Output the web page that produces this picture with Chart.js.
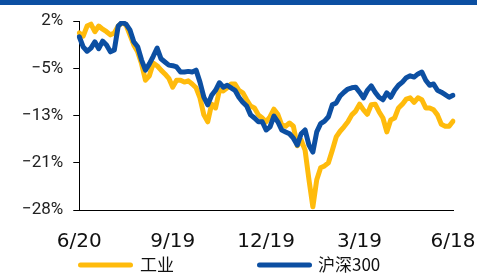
<!DOCTYPE html>
<html>
<head>
<meta charset="utf-8">
<script src="https://cdn.jsdelivr.net/npm/chart.js@4"></script>
<style>
  html, body { margin: 0; padding: 0; background: #fff; }
  #wrap { position: relative; width: 477px; height: 273px; }
</style>
</head>
<body>
<div id="wrap"><canvas id="chart"></canvas></div>
<script>
const xTickLabels = ['6/20', '9/19', '12/19', '3/19', '6/18'];
const xTickIndex = [0, 24, 48, 72, 96];
const yTickValues = [-28, -20.5, -13, -5.5, 2];
const yTickLabels = ['\u221228%', '\u221221%', '\u221213%', '\u22125%', '2%'];

const industry = [
  0.1, -0.4, 1.2, 1.5, 0.3, 1.2, 0.7, 0.3, -0.2, 0.1,
  1.2, 1.7, 1.4, -0.2, -1.8, -2.9, -4.8, -7.4, -6.7, -4.7,
  -5.1, -5.8, -6.4, -7.1, -8.5, -7.4, -7.4, -7.7, -7.5, -8.0,
  -8.6, -10.2, -12.9, -14.0, -11.2, -11.8, -9.0, -9.1, -8.6, -8.0,
  -8.0, -9.0, -9.4, -10.5, -11.5, -11.8, -12.9, -13.4, -14.0, -13.2,
  -12.0, -12.8, -14.5, -14.7, -14.2, -14.7, -17.8, -16.9, -18.5, -23.2,
  -27.5, -23.2, -21.3, -21.0, -20.5, -18.5, -16.4, -15.5, -14.8, -14.0,
  -12.9, -12.3, -11.2, -12.1, -12.8, -11.3, -11.2, -12.4, -13.4, -15.6,
  -13.7, -13.4, -11.8, -11.2, -10.4, -10.2, -10.9, -10.2, -10.5, -11.8,
  -11.8, -12.1, -12.9, -14.4, -14.7, -14.7, -13.9
];

const hs300 = [
  -0.5, -2.1, -2.8, -2.3, -1.3, -2.4, -1.2, -1.8, -2.9, -2.6,
  1.2, 1.8, 1.5, 0.6, -1.3, -2.1, -4.2, -5.8, -4.8, -3.6,
  -2.3, -4.0, -4.5, -5.0, -5.1, -5.3, -6.1, -6.1, -6.0, -6.1,
  -5.8, -7.7, -10.1, -11.3, -9.8, -9.0, -7.8, -8.5, -8.2, -8.6,
  -9.0, -10.1, -10.9, -11.5, -12.9, -13.4, -14.0, -14.0, -15.3, -14.8,
  -13.1, -14.0, -15.3, -15.6, -15.9, -16.6, -17.7, -15.9, -15.3, -17.7,
  -18.8, -15.6, -14.3, -13.9, -13.2, -11.3, -11.0, -9.9, -9.3, -8.8,
  -8.6, -8.5, -9.3, -10.2, -9.0, -8.3, -9.3, -10.1, -10.5, -9.4,
  -10.1, -9.0, -8.2, -7.7, -7.0, -6.7, -6.9, -6.4, -6.1, -7.4,
  -8.2, -8.0, -9.0, -9.3, -9.7, -10.1, -9.8
];

const yellow = '#FFBB0C';
const blue = '#0C4FA2';

// top band and bottom legend drawn straight on the canvas
const decor = {
  id: 'decor',
  beforeDraw(chart) {
    const ctx = chart.ctx;
    ctx.save();
    ctx.fillStyle = blue;
    ctx.fillRect(0, 0, chart.width, 5);
    ctx.restore();
  },
  afterDraw(chart) {
    const ctx = chart.ctx;
    const spots = [{ x: 78, tx: 140 }, { x: 257, tx: 318 }];
    ctx.save();
    ctx.lineCap = 'round';
    ctx.lineWidth = 5;
    ctx.font = '17px "Noto Sans CJK SC"';
    ctx.textBaseline = 'middle';
    ctx.fillStyle = '#111';
    chart.data.datasets.forEach((ds, i) => {
      const s = spots[i];
      ctx.strokeStyle = ds.borderColor;
      ctx.beginPath();
      ctx.moveTo(s.x + 2.5, 265);
      ctx.lineTo(s.x + 52.5, 265);
      ctx.stroke();
      ctx.fillText(ds.label, s.tx, 265);
    });
    ctx.restore();
  }
};

new Chart(document.getElementById('chart'), {
  type: 'line',
  data: {
    labels: industry.map((_, i) => i),
    datasets: [
      { label: '工业', data: industry, borderColor: yellow, backgroundColor: yellow, order: 1 },
      { label: '沪深300', data: hs300, borderColor: blue, backgroundColor: blue, order: 0 }
    ]
  },
  options: {
    responsive: true,
    maintainAspectRatio: false,
    animation: false,
    layout: { padding: { left: 12, right: 24, top: 21, bottom: 19 } },
    elements: {
      point: { radius: 0 },
      line: { borderWidth: 5, tension: 0, borderJoinStyle: 'round', borderCapStyle: 'round' }
    },
    plugins: { legend: { display: false }, tooltip: { enabled: false } },
    scales: {
      x: {
        afterBuildTicks: scale => { scale.ticks = xTickIndex.map(v => ({ value: v })); },
        grid: { display: true, drawOnChartArea: false, drawTicks: true, tickLength: 20, color: 'rgba(0,0,0,0)' },
        border: { display: true, color: '#000', width: 1 },
        ticks: {
          autoSkip: false,
          maxRotation: 0,
          padding: 0,
          color: '#111',
          font: { family: 'DejaVu Sans', size: 20 },
          callback: (v, i) => xTickLabels[i]
        }
      },
      y: {
        min: -28,
        max: 2,
        afterBuildTicks: scale => { scale.ticks = yTickValues.map(v => ({ value: v })); },
        grid: { drawOnChartArea: false, color: '#000', tickLength: 6 },
        border: { display: true, color: '#000', width: 1 },
        ticks: {
          padding: 10,
          color: '#222',
          font: { family: 'Roboto', size: 17 },
          callback: (v, i) => yTickLabels[i]
        }
      }
    }
  },
  plugins: [decor]
});
</script>
</body>
</html>
